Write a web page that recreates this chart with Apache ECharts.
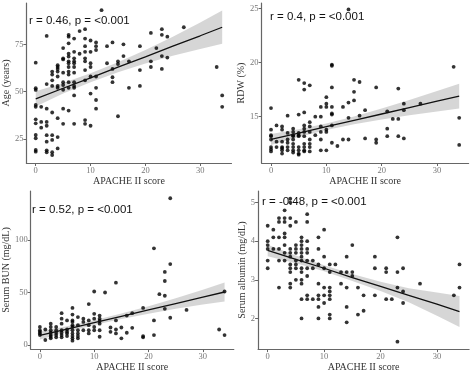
<!DOCTYPE html>
<html><head><meta charset="utf-8">
<script src="https://cdn.jsdelivr.net/npm/echarts@6/dist/echarts.min.js"></script>
<style>html,body{margin:0;padding:0;background:#fff}#c{width:474px;height:373px}</style>
</head><body><div id="c"></div>
<script>
// ---- data ----
const xTicks = [0, 10, 20, 30];
const xTitle = 'APACHE II score';

const ageTicks = [25, 50, 75];
const rdwTicks = [15, 20, 25];
const bunTicks = [0, 50, 100];
const albTicks = [2, 3, 4, 5];

const agePoints = [
[0,65.3],[0,51.8],[0,50.9],[0,43],[0,42],[0,35.4],[0,33.3],[0,27.1],[0,25.4],[0,19.2],[0,18.3],
[1,42],[1,34],[1,31],
[2,79.4],[2,54],[2,41],[2,34],[2,32],[2,27],[2,23.6],[2,19],[2,18],
[3,60.6],[3,59],[3,56],[3,53],[3,39],[3,27],[3,24.5],[3,18],[3,16.5],
[4,64],[4,63],[4,62],[4,60.6],[4,58],[4,53],[4,52],[4,36],[4,26],[4,20],
[5,73],[5,67.6],[5,67],[5,60],[5,55],[5,53.5],[5,51],[5,41],[5,33],
[6,80],[6,79],[6,75.5],[6,70],[6,68.5],[6,66],[6,65],[6,63],[6,60.6],[6,59],[6,55],[6,52],[6,40],
[7,78],[7,71],[7,67.6],[7,66],[7,65],[7,63],[7,60],[7,55],[7,53],[7,52],[7,48],[7,33],
[8,82],[8,70],
[9,83],[9,78],[9,74],[9,71],[9,67.6],[9,66],[9,61.4],[9,56],[9,35],[9,33],
[10,77],[10,71],[10,65],[10,63],[10,58],[10,49],[10,32],
[11,76],[11,74],[11,72],[11,58],[11,52],[11,45.6],[11,41],
[12,93],
[13,74],[13,65],
[14,76],[14,62],[14,57.6],[14,55],
[15,66],[15,64.6],[15,37],
[16,75],[16,68.8],
[17,66],[17,52],
[19,74],[19,61.4],[19,53],
[21,81],[21,66],[21,63],
[22,73],
[23,83],[23,80],[23,68.8],[23,62],
[24,79],[24,68],
[27,84],
[33,63],
[34,48],[34,42]
];

const rdwPoints = [
[0,15.8],[0,13.8],[0,13.3],[0,13.2],[0,12.9],[0,12.2],[0,12.0],[0,11.8],
[1,14.2],[1,12.7],[1,12.2],
[2,14.1],[2,13.8],[2,12.7],[2,12.2],[2,12.1],[2,11.9],[2,11.6],
[3,15.1],[3,13.5],[3,12.9],[3,12.6],[3,12.2],[3,11.9],
[4,13.9],[4,13.6],[4,13.3],[4,13.2],[4,12.9],[4,12.5],[4,12.2],[4,11.9],[4,11.7],
[5,18.4],[5,15.2],[5,13.5],[5,13.3],[5,13.2],[5,12.2],[5,11.9],[5,11.6],[5,11.5],
[6,18.1],[6,17.5],[6,15.4],[6,14.2],[6,13.9],[6,13.6],[6,13.2],[6,12.5],[6,12.2],[6,11.9],[6,11.8],
[7,17.9],[7,14.5],[7,14.1],[7,13.6],[7,12.9],[7,12.5],[7,12.2],[7,11.8],
[8,15],[8,13.3],
[9,15.9],[9,15],[9,14.1],[9,13.6],[9,12.9],[9,11.9],
[10,16.8],[10,16.2],[10,15.9],[10,13.8],[10,13.6],[10,11.9],
[11,19.8],[11,19.7],[11,17.7],[11,15.9],[11,15.3],[11,15.2],[11,14.2],[11,12.6],
[12,12.3],
[13,15.9],[13,12.9],
[14,24.9],[14,16.3],[14,14.9],[14,12.9],
[15,18.4],[15,17.3],[15,16.5],
[16,18.2],[16,15.1],
[17,15.6],[17,13],
[19,17.7],[19,12.9],[19,12.6],
[21,15.5],[21,13.9],[21,13.2],
[22,14.8],
[23,17.6],[23,14.8],[23,13.2],
[24,16.2],[24,15.6],[24,13],
[27,16.2],
[33,19.6],
[34,14.9],[34,12.4]
];

const bunPoints = [
[0,17.2],[0,14],[0,12.5],[0,11],[0,9.4],
[1,14.7],[1,4.7],
[2,20.3],[2,17.2],[2,14],[2,11.6],[2,9.4],[2,7.8],[2,6.3],
[3,17.2],[3,14],[3,11.6],[3,9.4],[3,7.2],
[4,30.3],[4,25],[4,20.3],[4,14],[4,11.6],[4,9.4],[4,7.2],
[5,23.4],[5,14.7],[5,12.5],[5,11],[5,8.4],
[6,35.3],[6,29],[6,23.4],[6,21.9],[6,18.8],[6,17.2],[6,14],[6,11],[6,8.4],[6,6.3],[6,4],
[7,26.6],[7,18.8],[7,14],[7,11],[7,8.4],[7,6.3],
[8,25],[8,21.9],[8,14],
[9,39],[9,23.4],[9,18.8],[9,14],[9,11],
[10,51],[10,29.7],[10,25],[10,17.2],[10,14],
[11,28],[11,25],[11,22.8],[11,20.3],[11,14],[11,7.8],
[12,50],
[13,16.6],[13,12.5],
[14,59.4],[14,23.4],[14,14.7],[14,11],
[15,16.6],[15,6.3],
[16,28],[16,11.6],
[17,30.3],[17,16.3],
[19,35.3],[19,8.4],[19,7.2],
[21,92.2],[21,23.4],[21,9.4],
[22,48.4],
[23,69.7],[23,61],[23,46.9],[23,34.4],
[24,140],[24,77.2],[24,25.9],
[27,33.4],
[33,14.7],
[34,51],[34,9.4]
];

const albPoints = [
[0,4.4],[0,4.0],[0,3.9],[0,3.8],[0,3.5],[0,3.3],
[1,4.3],[1,4.1],[1,3.8],
[2,4.6],[2,4.5],[2,4.1],[2,3.8],[2,3.5],[2,2.8],
[3,4.8],[3,4.6],[3,4.5],[3,4.2],[3,4.1],[3,3.9],[3,3.7],[3,3.5],
[4,5.1],[4,5.0],[4,4.6],[4,4.4],[4,3.8],[4,3.7],[4,3.6],[4,3.4],[4,3.3],[4,3.2],[4,2.9],[4,2.8],
[5,4.5],[5,3.9],[5,3.8],[5,3.7],[5,3.5],[5,3.4],[5,3.3],[5,3.0],
[6,4.1],[6,4.0],[6,3.9],[6,3.8],[6,3.7],[6,3.6],[6,3.5],[6,3.3],[6,3.2],[6,3.0],[6,2.9],[6,2.5],[6,2.0],
[7,4.7],[7,4.5],[7,4.0],[7,3.8],[7,3.7],[7,3.5],[7,3.3],[7,3.1],[7,2.6],[7,2.5],
[8,3.5],[8,3.3],[8,2.5],
[9,4.1],[9,3.8],[9,3.4],[9,2.9],[9,2.6],[9,2.5],[9,2.3],[9,2.0],
[10,4.3],[10,3.6],[10,3.3],[10,2.8],[10,2.6],[10,2.4],
[11,3.4],[11,3.2],[11,2.8],[11,2.7],[11,2.6],[11,2.5],[11,2.1],[11,2.0],
[12,3.4],
[13,3.2],[13,2.9],
[14,3.6],[14,3.2],[14,2.8],[14,2.3],[14,1.9],
[15,3.9],[15,3.2],[15,3.1],
[16,2.8],[16,2.1],
[17,2.6],[17,2.2],
[19,3.6],[19,3.3],[19,2.6],
[21,3.3],[21,3.2],[21,2.5],
[22,2.5],
[23,4.1],[23,3.2],[23,2.8],[23,1.4],
[24,3.3],[24,2.7],[24,2.4],
[27,2.9],
[33,2.6],
[34,3.4],[34,2.8]
];

// fitted line and confidence band, read at these scores
const fitX   = [0, 5, 10, 15, 20, 25, 30, 34];
const ageFit = [46.2, 51.8, 57.3, 62.9, 68.4, 74.0, 79.5, 84.0];
const ageLo  = [42.2, 49.0, 55.0, 60.3, 64.8, 69.0, 72.5, 75.3];
const ageHi  = [50.2, 54.6, 59.7, 65.5, 72.0, 79.0, 86.5, 92.8];
const rdwFit = [12.9, 13.49, 14.08, 14.66, 15.25, 15.84, 16.43, 16.9];
const rdwLo  = [12.4, 13.14, 13.78, 14.31, 14.75, 15.14, 15.48, 15.75];
const rdwHi  = [13.4, 13.84, 14.38, 15.01, 15.75, 16.54, 17.38, 18.05];
const bunFit = [9.0, 15.1, 21.2, 27.3, 33.4, 39.5, 45.6, 50.5];
const bunLo  = [5.2, 12.4, 18.9, 24.7, 29.8, 34.5, 38.6, 41.5];
const bunHi  = [12.8, 17.8, 23.5, 29.9, 37.0, 44.5, 52.6, 59.5];
const albFit = [3.76, 3.53, 3.30, 3.06, 2.83, 2.60, 2.37, 2.18];
const albLo  = [3.61, 3.43, 3.22, 2.97, 2.71, 2.42, 2.07, 1.78];
const albHi  = [3.91, 3.63, 3.38, 3.15, 2.95, 2.78, 2.67, 2.58];

const ageLabel = 'r = 0.46, p = <0.001';
const rdwLabel = 'r = 0.4, p = <0.001';
const bunLabel = 'r = 0.52, p = <0.001';
const albLabel = 'r = -0.48, p = <0.001';

// ---- chart ----
const SERIF = '"Liberation Serif", "DejaVu Serif", serif';
const SANS = '"Liberation Sans", Arial, sans-serif';
const axisCol = '#666';

const panels = [
  {pts: agePoints, fit: ageFit, lo: ageLo, hi: ageHi, yt: ageTicks, yname: 'Age (years)',
   grid: {left: 23.5, top: 3, width: 208, height: 160}, ymin: 12.33, ymax: 96.8},
  {pts: rdwPoints, fit: rdwFit, lo: rdwLo, hi: rdwHi, yt: rdwTicks, yname: 'RDW (%)',
   grid: {left: 261.6, top: 3, width: 207, height: 160}, ymin: 10.73, ymax: 25.49},
  {pts: bunPoints, fit: bunFit, lo: bunLo, hi: bunHi, yt: bunTicks, yname: 'Serum BUN (mg/dL)',
   grid: {left: 26.6, top: 191, width: 207.2, height: 161}, ymin: -4.0, ymax: 146.9},
  {pts: albPoints, fit: albFit, lo: albLo, hi: albHi, yt: albTicks, yname: 'Serum albumin (mg/dL)',
   grid: {left: 258.1, top: 191, width: 211, height: 160}, ymin: 1.207, ymax: 5.3}
];

const grids = [], xAxes = [], yAxes = [], series = [];
panels.forEach((p, i) => {
  grids.push(Object.assign({containLabel: false}, p.grid));
  xAxes.push({
    type: 'value', gridIndex: i, min: -1.7, max: 35.7,
    name: xTitle, nameLocation: 'middle', nameGap: 11,
    nameTextStyle: {fontFamily: SERIF, fontSize: 10, color: '#333'},
    axisLine: {show: true, onZero: false, lineStyle: {color: axisCol, width: 1.2}},
    axisTick: {show: true, length: 3, customValues: xTicks, lineStyle: {color: axisCol}},
    axisLabel: {customValues: xTicks, margin: 3, fontFamily: SERIF, fontSize: 8.5, color: '#777'},
    splitLine: {show: false}
  });
  yAxes.push({
    type: 'value', gridIndex: i, min: p.ymin, max: p.ymax,
    name: p.yname, nameLocation: 'middle', nameGap: 11,
    nameTextStyle: {fontFamily: SERIF, fontSize: 10, color: '#333'},
    axisLine: {show: true, onZero: false, lineStyle: {color: axisCol, width: 1.2}},
    axisTick: {show: true, length: 3, customValues: p.yt, lineStyle: {color: axisCol}},
    axisLabel: {customValues: p.yt, margin: 3, fontFamily: SERIF, fontSize: 8.5, color: '#777'},
    splitLine: {show: false}
  });
  series.push({
    type: 'scatter', xAxisIndex: i, yAxisIndex: i, data: p.pts,
    symbol: 'circle', symbolSize: 3.8, itemStyle: {color: '#000'}, silent: true
  });
  series.push({
    type: 'custom', xAxisIndex: i, yAxisIndex: i, data: [[fitX[0], p.fit[0]]], silent: true,
    renderItem: (params, api) => {
      const up = fitX.map((x, k) => api.coord([x, p.hi[k]]));
      const dn = fitX.map((x, k) => api.coord([x, p.lo[k]])).reverse();
      return {type: 'polygon', shape: {points: up.concat(dn)},
              style: {fill: 'rgba(153,153,153,0.4)', stroke: null}};
    }
  });
  series.push({
    type: 'line', xAxisIndex: i, yAxisIndex: i, data: fitX.map((x, k) => [x, p.fit[k]]),
    symbol: 'none', lineStyle: {color: '#111', width: 1.3}, silent: true
  });
});

const chart = echarts.init(document.getElementById('c'), null, {renderer: 'canvas'});
chart.setOption({
  animation: false,
  grid: grids, xAxis: xAxes, yAxis: yAxes, series: series,
  graphic: [
    {type: 'text', left: 29, top: 15, style: {text: ageLabel, font: '11.5px ' + SANS, fill: '#111'}},
    {type: 'text', left: 270, top: 10.5, style: {text: rdwLabel, font: '11.5px ' + SANS, fill: '#111'}},
    {type: 'text', left: 32, top: 204, style: {text: bunLabel, font: '11.5px ' + SANS, fill: '#111'}},
    {type: 'text', left: 262, top: 196, style: {text: albLabel, font: '11.5px ' + SANS, fill: '#111'}}
  ]
});
</script></body></html>
